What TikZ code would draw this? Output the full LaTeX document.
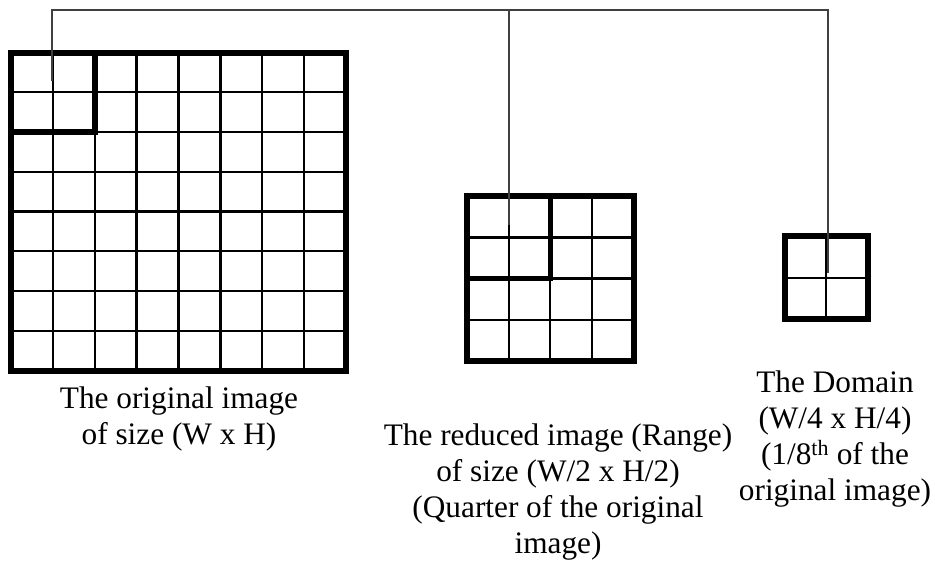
\documentclass[tikz,border=0pt]{standalone}
\usepackage{fontspec}
\setmainfont{Liberation Serif}
\usepackage{tikz}
\usetikzlibrary{positioning}

\begin{document}
\begin{tikzpicture}[
  x=1pt, y=-1pt,
  cell/.style={line width=2.3pt},
  frame/.style={line width=6pt},
  block/.style={line width=5.5pt},
  link/.style={line width=1.4pt, draw=black!75},
  caption/.style={align=center, inner sep=0pt, font=\fontsize{31.3}{36}\selectfont}
]
\useasboundingbox (0,0) rectangle (935,568);

% Original image, 8 x 8 cells
\foreach \i in {1,...,7} {
  \draw[cell] ({11+\i*41.875},52.5) -- ++(0,318);
  \draw[cell] (11,{52.5+\i*39.75}) -- ++(335,0);
}
\draw[frame] (11,52.5) rectangle (346,370.5);
\draw[block] (94.75,52.5) |- (11,132);

% Reduced image, 4 x 4 cells
\foreach \i in {1,2,3} {
  \draw[cell] ({467+\i*41.67},196.3) -- ++(0,164.5);
  \draw[cell] (467,{196.3+\i*41.12}) -- ++(166.7,0);
}
\draw[frame] (467,196.3) rectangle (633.7,360.8);
\draw[block] (550.3,196.3) |- (467,278.5);

% Domain, 2 x 2 cells
\draw[cell] (826.25,236.3) -- ++(0,82.7);
\draw[cell] (784.5,277.65) -- ++(83.5,0);
\draw[frame] (784.5,236.3) rectangle (868,319);

% Links
\coordinate (busL) at (52,10);
\coordinate (busM) at (509,10);
\coordinate (busR) at (828,10);
\coordinate (origin) at (52,81);
\coordinate (range) at (509,225);
\coordinate (domain) at (828,273);
\draw[link] (origin) -- (busL) -- (busR) -- (domain);
\draw[link] (busM) -- (range);

% Captions
\node[caption, anchor=north] (origlbl) at (179,386.6) {The original image\\of size (W x H)};
\node[caption, anchor=north] (rangelbl) at (558,423.3) {The reduced image (Range)\\of size (W/2 x H/2)\\(Quarter of the original\\image)};
\node[caption, anchor=north] (domainlbl) at (835,370.3) {The Domain\\(W/4 x H/4)\\(1/8\textsuperscript{th} of the\\original image)};

\end{tikzpicture}
\end{document}
